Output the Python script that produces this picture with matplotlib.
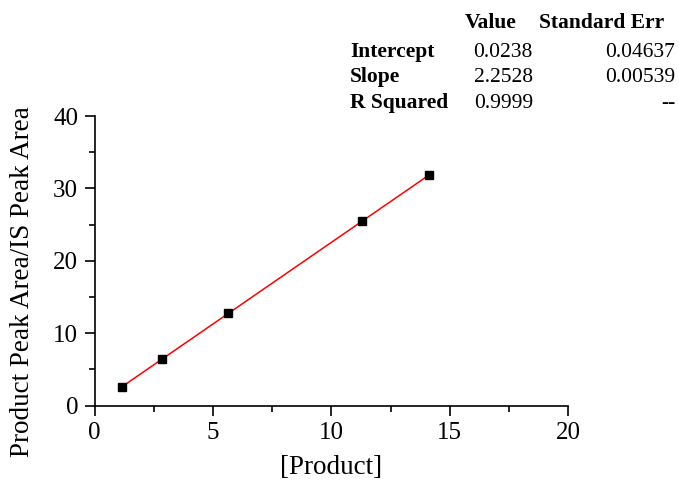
import matplotlib
matplotlib.use("Agg")
import matplotlib.pyplot as plt
import numpy as np
from matplotlib.ticker import MultipleLocator

# Calibration data
product_conc = [1.14, 2.86, 5.65, 11.31, 14.14]
area_ratio = [2.58, 6.41, 12.85, 25.47, 31.9]

# Linear fit summary
fit_rows = ["Intercept", "Slope", "R Squared"]
fit_values = ["0.0238", "2.2528", "0.9999"]
fit_errors = ["0.04637", "0.00539", "--"]
intercept = 0.0238
slope = 2.2528

plt.rcParams["font.family"] = ["Liberation Serif", "DejaVu Serif"]

fig = plt.figure(figsize=(6.79, 4.8), dpi=100)
ax = fig.add_axes([0.1395, 0.1548, 0.697, 0.6035])

xfit = np.array([min(product_conc), max(product_conc)])
ax.plot(xfit, intercept + slope * xfit, color="red", lw=1.1, zorder=2)
ax.plot(product_conc, area_ratio, "s", color="black", ms=5.5, zorder=3)

ax.set_xlim(0, 20)
ax.set_ylim(0, 40)
ax.xaxis.set_major_locator(MultipleLocator(5))
ax.xaxis.set_minor_locator(MultipleLocator(2.5))
ax.yaxis.set_major_locator(MultipleLocator(10))
ax.yaxis.set_minor_locator(MultipleLocator(5))
ax.spines["top"].set_visible(False)
ax.spines["right"].set_visible(False)
for s in ("left", "bottom"):
    ax.spines[s].set_linewidth(1.2)
ax.tick_params(which="major", direction="out", length=7, width=1.2, labelsize=18, pad=5)
ax.tick_params(which="minor", direction="out", length=4, width=1.2)

ax.set_xlabel("[Product]", fontsize=19.5, labelpad=8)
ax.set_ylabel("Product Peak Area/IS Peak Area", fontsize=19.5)
ax.yaxis.set_label_coords(-0.127, 0.43)

# Fit results table
fs = 15.5
fig.text(465 / 679, 1 - 28 / 480, "Value", fontsize=fs, fontweight="bold", va="baseline", ha="left")
fig.text(664 / 679, 1 - 28 / 480, "Standard Err", fontsize=fs, fontweight="bold", va="baseline", ha="right")
row_y = [57, 82, 108]
for name, val, err, y in zip(fit_rows, fit_values, fit_errors, row_y):
    fy = 1 - y / 480
    fig.text(350 / 679, fy, name, fontsize=fs, fontweight="bold", va="baseline", ha="left")
    fig.text(533 / 679, fy, val, fontsize=fs, va="baseline", ha="right")
    fig.text(675 / 679, fy, err, fontsize=fs, va="baseline", ha="right")

fig.savefig("out.png", dpi=100)
